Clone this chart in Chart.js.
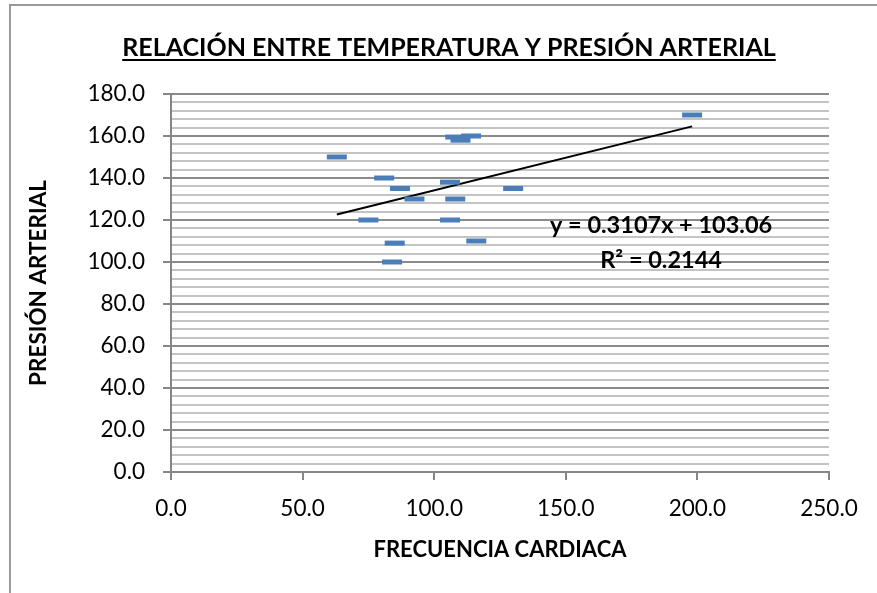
<!DOCTYPE html>
<html>
<head>
<meta charset="utf-8">
<script src="https://cdn.jsdelivr.net/npm/chart.js@4.4.1/dist/chart.umd.min.js"></script>
<style>
  html, body { margin: 0; padding: 0; background: #fff; }
  #wrap { position: relative; width: 877px; height: 593px; overflow: hidden; }
  #frame { position: absolute; left: 9px; top: 4px; width: 900px; height: 700px; border-left: 2px solid #999; border-top: 2px solid #999; }
  canvas { position: absolute; left: 0; top: 0; }
</style>
</head>
<body>
<div id="wrap">
  <div id="frame"></div>
  <canvas id="chart" width="877" height="593"></canvas>
</div>
<script>
// datos
const xValues = [63, 75, 81, 84, 85, 87, 92.5, 106, 106, 108, 108, 110, 114, 116, 130, 198];
const yValues = [150, 120, 140, 100, 109, 135, 130, 138, 120, 159.5, 130, 158, 160, 110, 135, 170];

// linea de tendencia (de la ecuacion mostrada)
const slope = 0.3107;
const intercept = 103.06;
const r2 = 0.2144;

const chartTitle = 'RELACIÓN ENTRE TEMPERATURA Y PRESIÓN ARTERIAL';
const xTitle = 'FRECUENCIA CARDIACA';
const yTitle = 'PRESIÓN ARTERIAL';

const FONT = "Lato, 'Open Sans', sans-serif";

const xMin = Math.min(...xValues);
const xMax = Math.max(...xValues);
const trend = [xMin, xMax].map((x) => ({ x: x, y: slope * x + intercept }));

// titulo subrayado y ecuacion
const overlay = {
    id: 'overlay',
    afterDraw(chart) {
        const { ctx, scales } = chart;
        ctx.save();
        ctx.fillStyle = '#000';
        ctx.textAlign = 'center';
        ctx.textBaseline = 'alphabetic';
        ctx.font = `bold 25px ${FONT}`;
        ctx.fillText(chartTitle, 449, 56);
        const w = ctx.measureText(chartTitle).width;
        ctx.fillRect(449 - w / 2, 59, w, 2);

        ctx.font = `bold 23.5px ${FONT}`;
        ctx.textBaseline = 'middle';
        const ex = scales.x.getPixelForValue(186.2);
        const ey = scales.y.getPixelForValue(117.6);
        ctx.fillText(`y = ${slope}x + ${intercept}`, ex, ey);
        ctx.fillText(`R² = ${r2}`, ex, ey + 35);
        ctx.restore();
    },
};

new Chart(document.getElementById('chart').getContext('2d'), {
    type: 'scatter',
    data: {
        datasets: [
            {
                label: 'Datos',
                data: xValues.map((x, i) => ({ x: x, y: yValues[i] })),
                pointStyle: 'line',
                pointRadius: 10,
                pointHoverRadius: 10,
                pointBorderWidth: 5,
                borderColor: '#4a7ebb',
                backgroundColor: '#4a7ebb',
            },
            {
                label: 'Tendencia',
                type: 'line',
                data: trend,
                borderColor: '#000',
                borderWidth: 2,
                pointRadius: 0,
                fill: false,
            },
        ],
    },
    options: {
        responsive: false,
        animation: false,
        layout: { padding: { top: 94, right: 48, left: 0, bottom: 0 } },
        plugins: {
            legend: { display: false },
            tooltip: { enabled: false },
        },
        scales: {
            x: {
                type: 'linear',
                min: 0,
                max: 250,
                ticks: {
                    stepSize: 50,
                    color: '#000',
                    padding: 15,
                    font: { family: FONT, size: 22.5 },
                    callback: (v) => v.toFixed(1),
                },
                grid: { drawOnChartArea: false, tickLength: 8, color: '#868686', lineWidth: 2 },
                border: { color: '#868686', width: 2 },
                title: {
                    display: true,
                    text: xTitle,
                    color: '#000',
                    font: { family: FONT, size: 22, weight: 'bold' },
                    padding: { top: 0, bottom: 30 },
                },
                afterFit: (s) => { s.height = 121; },
            },
            y: {
                min: 0,
                max: 180,
                ticks: {
                    stepSize: 4,
                    autoSkip: false,
                    color: '#000',
                    padding: 18,
                    font: { family: FONT, size: 22.5 },
                    callback: (v) => (v % 20 === 0 ? v.toFixed(1) : ''),
                },
                grid: {
                    tickLength: 8,
                    lineWidth: 2,
                    color: (c) => (c.tick && c.tick.value % 20 === 0 ? '#8a8a8a' : '#c4c4c4'),
                    tickColor: (c) => (c.tick && c.tick.value % 20 === 0 ? '#868686' : 'rgba(0,0,0,0)'),
                },
                border: { color: '#868686', width: 2 },
                title: {
                    display: true,
                    text: yTitle,
                    color: '#000',
                    font: { family: FONT, size: 22.5, weight: 'bold' },
                    padding: { top: 25, bottom: 0 },
                },
                afterFit: (s) => { s.width = 171; },
            },
        },
    },
    plugins: [overlay],
});
</script>
</body>
</html>
